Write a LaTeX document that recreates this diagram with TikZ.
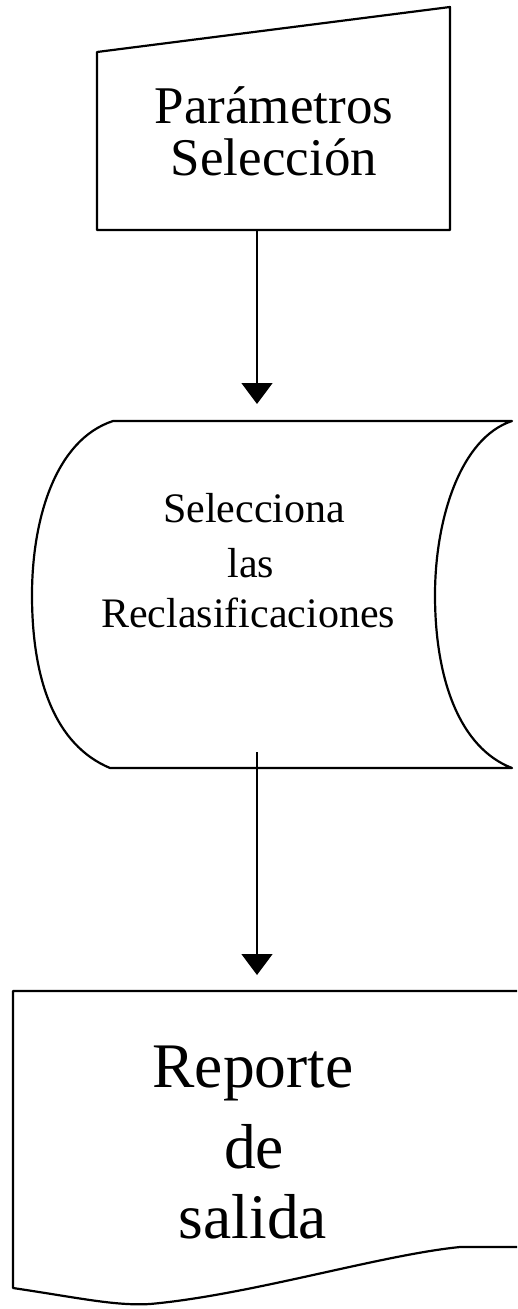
\documentclass[tikz,border=0pt]{standalone}
\usepackage{fontspec}
\setmainfont{Liberation Serif}
\usetikzlibrary{arrows.meta}
\begin{document}
\begin{tikzpicture}[x=1pt,y=-1pt,
  outline/.style={line width=2.2pt, line join=round, line cap=round},
  flow/.style={line width=1.4pt, -{Triangle[width=31pt,length=21pt]}},
  lblA/.style={font=\fontsize{53}{53}\selectfont, inner sep=0pt, anchor=base},
  lblB/.style={font=\fontsize{42}{42}\selectfont, inner sep=0pt, anchor=base},
  lblC/.style={font=\fontsize{63.5}{63.5}\selectfont, inner sep=0pt, anchor=base}]
\useasboundingbox (0,0) rectangle (517,1309);
\clip (0,0) rectangle (517,1309);

% manual input
\draw[outline] (97,52) -- (450,7) -- (450,230) -- (97,230) -- cycle;
\node[lblA] (p1) at (274,123) {Parámetros};
\node[lblA] (p2) at (274,175) {Selección};

% stored data
\draw[outline] (113,421) -- (512,421)
  .. controls (460,438) and (435,520) .. (435,595)
  .. controls (435,680) and (460,748) .. (512,768)
  -- (110,768)
  .. controls (55,745) and (32,680) .. (32,595)
  .. controls (32,520) and (55,440) .. (113,421) -- cycle;
\node[lblB] (s1) at (254,522) {Selecciona};
\node[lblB] (s2) at (251,577) {las};
\node[lblB] (s3) at (248,627) {Reclasificaciones};

% document
\draw[outline] (540,991) -- (13,991) -- (13,1288)
  .. controls (80,1298) and (115,1306) .. (150,1304)
  .. controls (250,1295) and (380,1255) .. (460,1247) -- (540,1247);
\node[lblC] (r1) at (253,1087) {Reporte};
\node[lblC] (r2) at (254,1168) {de};
\node[lblC] (r3) at (253,1238) {salida};

% connectors
\coordinate (a1s) at (257,230);
\coordinate (a1e) at (257,404);
\coordinate (a2s) at (257,752);
\coordinate (a2e) at (257,975);
\draw[flow] (a1s) -- (a1e);
\draw[flow] (a2s) -- (a2e);
\end{tikzpicture}
\end{document}
